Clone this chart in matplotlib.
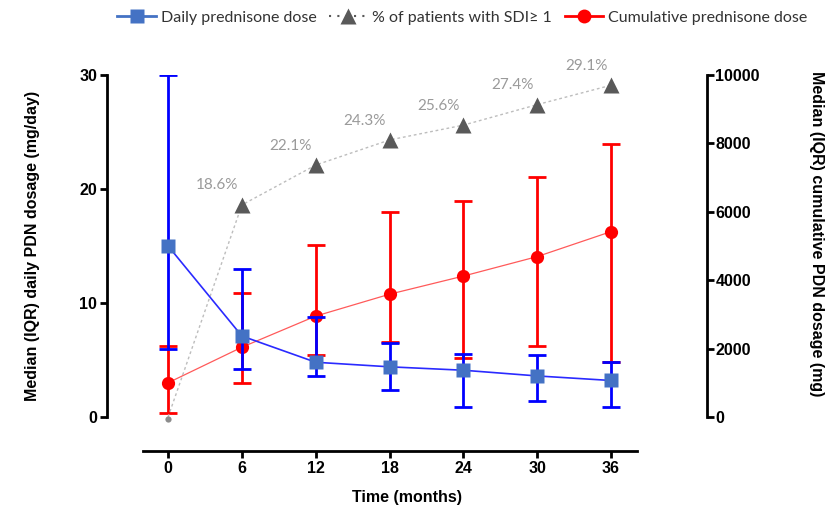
import matplotlib
matplotlib.use("Agg")
import matplotlib.pyplot as plt
from matplotlib.lines import Line2D

# Data
months = [0, 6, 12, 18, 24, 30, 36]

daily_median = [15, 7.1, 4.8, 4.4, 4.1, 3.6, 3.2]
daily_q1 = [6, 4.2, 3.6, 2.4, 0.85, 1.4, 0.9]
daily_q3 = [30, 13, 8.8, 6.5, 5.5, 5.4, 4.8]

cum_median = [1000, 2040, 2950, 3590, 4120, 4690, 5420]
cum_q1 = [130, 1000, 1810, 2200, 1720, 2080, 1610]
cum_q3 = [2090, 3630, 5020, 5990, 6320, 7020, 7970]

sdi_months = [6, 12, 18, 24, 30, 36]
sdi_pct = [18.6, 22.1, 24.3, 25.6, 27.4, 29.1]
sdi_labels = ["18.6%", "22.1%", "24.3%", "25.6%", "27.4%", "29.1%"]

BLUE = "#0000ff"
BLUE_MK = "#4472c4"
RED = "#ff0000"
GRAY_LINE = "#bdbdbd"
GRAY_MK = "#595959"
GRAY_TXT = "#9a9a9a"

plt.rcParams["font.family"] = ["Liberation Sans", "DejaVu Sans"]

fig = plt.figure(figsize=(8.33, 5.16), dpi=100)
ax = fig.add_axes([0.1285, 0.1919, 0.7203, 0.6628])
ax2 = ax.twinx()
ax.set_zorder(ax2.get_zorder() + 1)
ax.patch.set_visible(False)

# cumulative dose (right axis)
cum_err = [[m - lo for m, lo in zip(cum_median, cum_q1)],
           [hi - m for m, hi in zip(cum_median, cum_q3)]]
ax2.plot(months, cum_median, color="#ff5a5a", lw=0.9, zorder=2)
ax2.errorbar(months, cum_median, yerr=cum_err, fmt="none", ecolor=RED,
             elinewidth=2, capsize=6.5, capthick=2, zorder=3)
ax2.plot(months, cum_median, "o", color=RED, ms=9.5, mec="none", zorder=4)

# % of patients with SDI >= 1 (left axis)
ax.plot([0] + sdi_months, [0] + sdi_pct, color=GRAY_LINE, lw=1, ls=(0, (2, 2)), zorder=1)
ax.plot([0], [-0.2], "o", color="#8c8c8c", ms=4.5, mec="none", zorder=8, clip_on=False)
ax.plot(sdi_months, sdi_pct, "^", color=GRAY_MK, ms=11, mec="none", zorder=2)
for x, y, t in zip(sdi_months, sdi_pct, sdi_labels):
    ax.annotate(t, (x, y), xytext=(-18, 14), textcoords="offset points",
                ha="center", va="center", color=GRAY_TXT, fontsize=11,
                family=["Lato", "DejaVu Sans"])

# daily dose (left axis)
daily_err = [[m - lo for m, lo in zip(daily_median, daily_q1)],
             [hi - m for m, hi in zip(daily_median, daily_q3)]]
ax.plot(months, daily_median, color="#2a2aff", lw=1.2, zorder=5)
ax.errorbar(months, daily_median, yerr=daily_err, fmt="none", ecolor=BLUE,
            elinewidth=2, capsize=6.5, capthick=2, zorder=6)
ax.plot(months, daily_median, "s", color=BLUE_MK, ms=10, mec="none", zorder=7)

# axes styling
ax.set_xlim(-4.96, 43.8)
ax.set_ylim(0, 30)
ax2.set_ylim(0, 10000)
ax.set_xticks(months)
ax.set_yticks([0, 10, 20, 30])
ax2.set_yticks([0, 2000, 4000, 6000, 8000, 10000])

for a in (ax, ax2):
    a.spines["top"].set_visible(False)
    for s in ("left", "right", "bottom"):
        a.spines[s].set_linewidth(2)
ax.spines["right"].set_visible(False)
ax2.spines["left"].set_visible(False)
ax2.spines["bottom"].set_visible(False)
ax.spines["bottom"].set_position(("outward", 24.5))
ax.spines["bottom"].set_bounds(-2, 38.1)

ax.tick_params(axis="both", width=2, length=5, labelsize=11.5, pad=2)
ax2.tick_params(axis="y", width=2, length=5, labelsize=11.5, pad=1)
for lab in ax.get_xticklabels() + ax.get_yticklabels() + ax2.get_yticklabels():
    lab.set_fontweight("bold")

ax.set_xlabel("Time (months)", fontsize=11.5, fontweight="bold", labelpad=10)
ax.set_ylabel("Median (IQR) daily PDN dosage (mg/day)", fontsize=11.5,
              fontweight="bold", va="center")
ax.yaxis.set_label_coords(-0.125, 0.5)
ax2.set_ylabel("Median (IQR) cumulative PDN dosage (mg)", fontsize=11.5,
               fontweight="bold", rotation=270, va="center")
ax2.yaxis.set_label_coords(1.183, 0.535)

handles = [
    Line2D([], [], color=BLUE_MK, lw=2, marker="s", ms=10, mec="none"),
    Line2D([], [], color=GRAY_MK, lw=1.5, ls=(0, (1, 3)), marker="^", ms=11, mec="none"),
    Line2D([], [], color=RED, lw=2, marker="o", ms=10, mec="none"),
]
fig.legend(handles, ["Daily prednisone dose", "% of patients with SDI\u2265 1",
                     "Cumulative prednisone dose"],
           loc="center", bbox_to_anchor=(0.555, 0.966), ncol=3, frameon=False,
           handlelength=2.4, handletextpad=0.3, columnspacing=0.8,
           prop={"family": ["Lato", "DejaVu Sans"], "size": 11.5},
           labelcolor="#333333")

fig.savefig("out.png", dpi=100)
